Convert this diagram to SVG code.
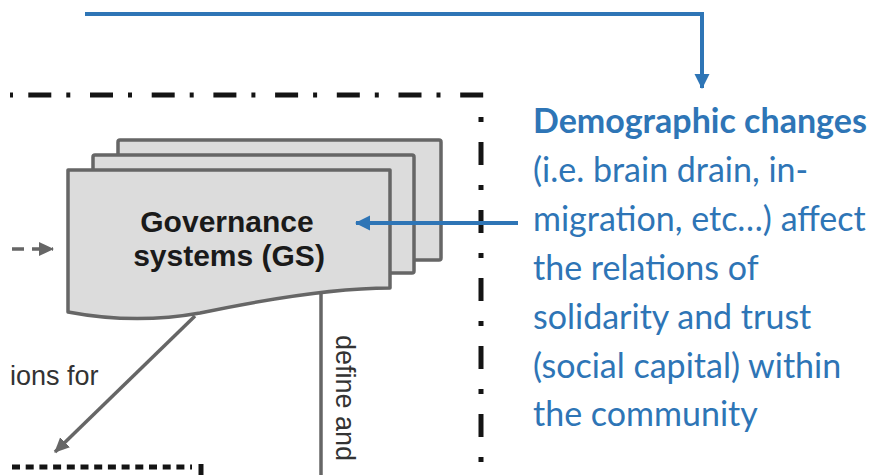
<svg xmlns="http://www.w3.org/2000/svg" width="875" height="475" viewBox="0 0 875 475">
<style>
.card{fill:#dcdcdc;stroke:#666;stroke-width:3.5;stroke-linejoin:round}
.gs{font-family:"Liberation Sans",Arial,sans-serif;font-weight:bold;font-size:30px;fill:#1a1a1a;text-anchor:middle}
.lbl{font-family:"Liberation Sans",Arial,sans-serif;font-size:27px;fill:#333}
.note{font-family:Lato,"Open Sans",sans-serif;font-size:34px;fill:#2E75B6}
.frame{fill:none;stroke:#141414;stroke-width:5}
.blue{fill:none;stroke:#2E75B6;stroke-width:4}
.gray{fill:none;stroke:#666;stroke-width:3.5}
</style>
<defs>
<marker id="bh" markerUnits="userSpaceOnUse" markerWidth="16" markerHeight="16" refX="14" refY="7.5" orient="auto"><path d="M0,0 L15,7.5 L0,15 Z" fill="#2E75B6"/></marker>
<marker id="gh" markerUnits="userSpaceOnUse" markerWidth="16" markerHeight="16" refX="14" refY="7" orient="auto"><path d="M0,0 L15,7 L0,14 Z" fill="#666"/></marker>
</defs>

<g id="frame">
<line class="frame" x1="10" y1="95" x2="13" y2="95"/>
<path class="frame" d="M28.3,95 H484" stroke-dasharray="23 15 4 19.7"/>
<path class="frame" d="M481,117 V475" stroke-dasharray="5 20 23 20"/>
<path class="frame" d="M12,467 H192" stroke-width="4" stroke-dasharray="8 5.7"/>
<path class="frame" d="M201,464 V475" stroke-width="4"/>
</g>

<g id="gs-node">
<rect class="card" x="118" y="140" width="323" height="120" rx="2"/>
<rect class="card" x="93" y="155" width="321" height="118" rx="2"/>
<path class="card" d="M68,170 H390 V288 C330,288 262,300 200,313 C150,322 105,319 68,312 Z"/>
<text class="gs" x="227" y="232">Governance</text>
<text class="gs" x="229" y="266">systems (GS)</text>
</g>

<g id="connectors">
<path class="blue" d="M85,14 H702 V88" marker-end="url(#bh)"/>
<path class="blue" d="M518,223 H356" stroke-width="3.5" marker-end="url(#bh)"/>
<path class="gray" d="M195,316 L55,452" marker-end="url(#gh)"/>
<path class="gray" d="M321,292 V475" stroke-width="3"/>
<path class="gray" d="M12,249 H53" stroke-width="4" stroke="#777" stroke-dasharray="12 8" marker-end="url(#gh)"/>
</g>

<g id="labels">
<text class="lbl" x="10" y="385">ions for</text>
<text class="lbl" font-size="29" transform="translate(336,335) rotate(90)">define and</text>
</g>

<g id="demographic-note">
<text class="note" x="533" y="133" font-weight="bold">Demographic changes</text>
<text class="note" x="533" y="182">(i.e. brain drain, in-</text>
<text class="note" x="533" y="231">migration, etc…) affect</text>
<text class="note" x="533" y="280">the relations of</text>
<text class="note" x="533" y="329">solidarity and trust</text>
<text class="note" x="533" y="378">(social capital) within</text>
<text class="note" x="533" y="426">the community</text>
</g>
</svg>
